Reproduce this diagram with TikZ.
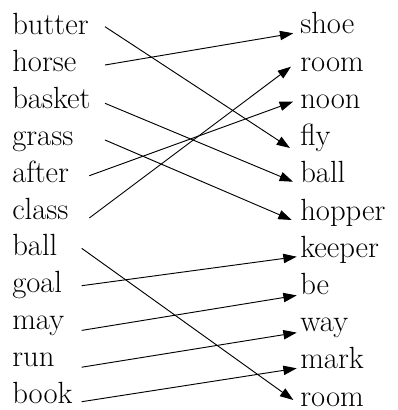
\documentclass[tikz,border=0pt]{standalone}
\usetikzlibrary{arrows.meta,calc}
\tikzset{
  word/.style={inner sep=0pt, anchor=base west, font=\fontsize{23}{27}\selectfont},
  link/.style={line width=0.7pt, -{Triangle[length=10pt,width=7pt]}},
}
\begin{document}
\begin{tikzpicture}[x=0.75pt,y=-0.75pt]
        \useasboundingbox (0,0) rectangle (398,410);

        % Left column
        \foreach \w [count=\i] in {butter,horse,basket,grass,after,class,ball,goal,may,run,book}
            \node[word] (l\i) at (12, {35+36.8*(\i-1)}) {\w};

        % Right column
        \foreach \w [count=\i] in {shoe,room,noon,fly,ball,hopper,keeper,be,way,mark,room}
            \node[word] (r\i) at (300, {34+37.2*(\i-1)}) {\w};

        % Matching arrows
        \draw[link] ($(l1.base west)+(93,-8.3)$) -- ($(r4.base west)+(-10,2.4)$);
        \draw[link] ($(l2.base west)+(93,-6.8)$) -- ($(r1.base west)+(-6.7,-0.7)$);
        \draw[link] ($(l3.base west)+(93,-5.3)$) -- ($(r5.base west)+(-7,-1.1)$);
        \draw[link] ($(l4.base west)+(93,-5.4)$) -- ($(r6.base west)+(-8.3,0)$);
        \draw[link] ($(l5.base west)+(77.3,-6.5)$) -- ($(r3.base west)+(-7,-6.7)$);
        \draw[link] ($(l6.base west)+(77.3,-1)$) -- ($(r2.base west)+(-9,-4.5)$);
        \draw[link] ($(l7.base west)+(69.7,-7.5)$) -- ($(r11.base west)+(-6.7,-6)$);
        \draw[link] ($(l8.base west)+(69.7,-6.9)$) -- ($(r7.base west)+(-3.3,-0.5)$);
        \draw[link] ($(l9.base west)+(69.7,1)$) -- ($(r8.base west)+(-3.3,1)$);
        \draw[link] ($(l10.base west)+(69.7,1)$) -- ($(r9.base west)+(-3.3,1)$);
        \draw[link] ($(l11.base west)+(69.7,-1.3)$) -- ($(r10.base west)+(-3.3,-0.5)$);
\end{tikzpicture}
\end{document}
